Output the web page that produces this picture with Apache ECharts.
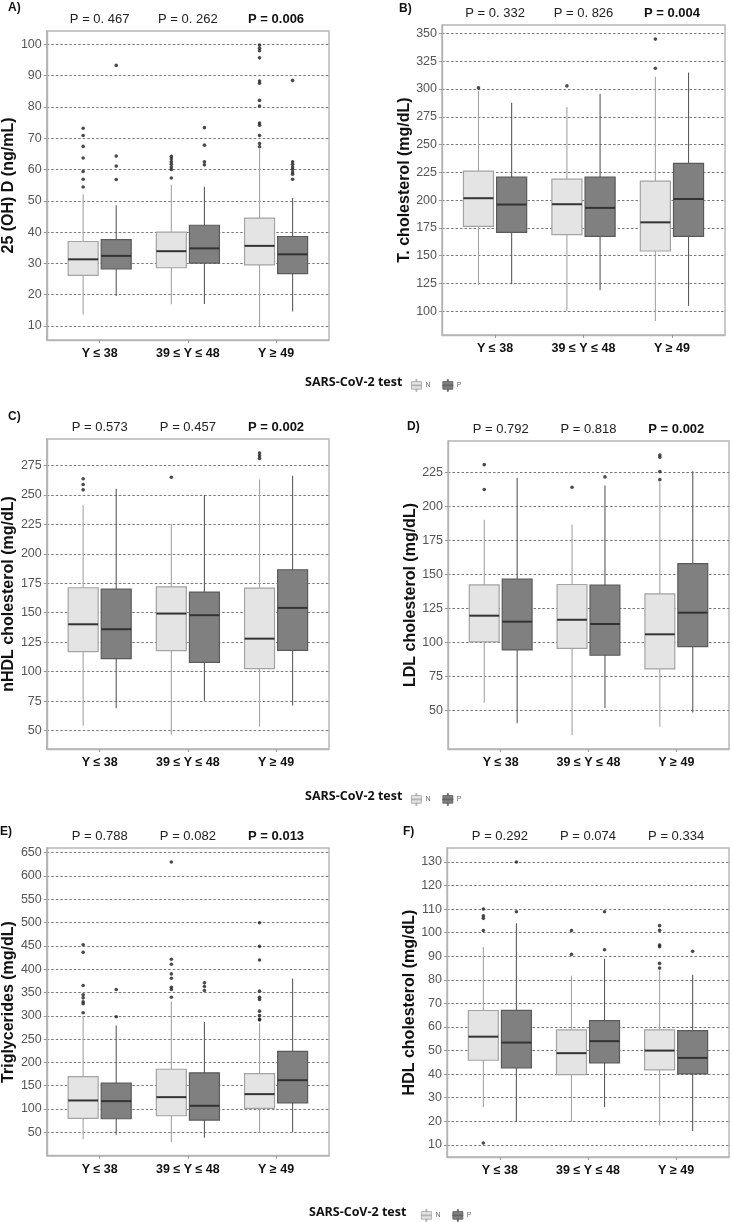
<!DOCTYPE html>
<html><head><meta charset="utf-8">
<script src="https://cdn.jsdelivr.net/npm/echarts@6/dist/echarts.min.js"></script>
<style>html,body{margin:0;padding:0;background:#fff}#c{width:733px;height:1222px}</style>
</head><body><div id="c"></div>
<script>
// ---------- DATA ----------
const categories = ['Y \u2264 38', '39 \u2264 Y \u2264 48', 'Y \u2265 49'];
const groupNames = ['N', 'P'];
const legendTitle = 'SARS-CoV-2 test';
// each box: [lower whisker, Q1, median, Q3, upper whisker]

// A) 25 (OH) D
const vitD_title = '25 (OH) D (ng/mL)';
const vitD_p = ['P = 0. 467', 'P = 0. 262', 'P = 0.006'];
const vitD_sig = [false, false, true];
const vitD_ticks = [10, 20, 30, 40, 50, 60, 70, 80, 90, 100];
const vitD_N = [[13.7, 26.2, 31.3, 37.0, 52.1], [16.9, 28.6, 33.9, 40.0, 55.1], [10.0, 29.5, 35.6, 44.5, 66.5]];
const vitD_P = [[19.6, 28.2, 32.4, 37.6, 48.6], [17.0, 30.1, 34.8, 42.2, 54.5], [14.6, 26.7, 32.9, 38.6, 50.9]];
const vitD_N_out = [[73.2, 70.9, 67.4, 63.7, 59.4, 56.9, 54.4], [64.2, 63.4, 62.5, 61.7, 60.8, 60.0, 57.3], [99.8, 98.8, 98.0, 95.7, 88.3, 87.6, 82.1, 80.3, 74.9, 74.2, 70.9, 68.3, 67.3]];
const vitD_P_out = [[93.3, 64.3, 61.1, 56.8], [73.4, 67.8, 62.5, 61.5], [88.5, 62.5, 61.7, 60.8, 60.1, 59.2, 58.5, 56.9]];

// B) T. cholesterol
const tchol_title = 'T. cholesterol (mg/dL)';
const tchol_p = ['P = 0. 332', 'P = 0. 826', 'P = 0.004'];
const tchol_sig = [false, false, true];
const tchol_ticks = [100, 125, 150, 175, 200, 225, 250, 275, 300, 325, 350];
const tchol_N = [[123.5, 176.4, 201.7, 226.0, 298.0], [100.0, 168.9, 196.3, 218.8, 283.8], [91.3, 154.2, 180.0, 217.0, 310.9]];
const tchol_P = [[124.4, 171.0, 196.0, 220.6, 287.7], [119.0, 167.4, 193.0, 220.6, 295.8], [104.8, 167.4, 201.0, 233.0, 314.8]];
const tchol_N_out = [[301.0], [302.8], [344.9, 318.7]];
const tchol_P_out = [[], [], []];

// C) nHDL cholesterol
const nhdl_title = 'nHDL cholesterol (mg/dL)';
const nhdl_p = ['P = 0.573', 'P = 0.457', 'P = 0.002'];
const nhdl_sig = [false, false, true];
const nhdl_ticks = [50, 75, 100, 125, 150, 175, 200, 225, 250, 275];
const nhdl_N = [[54.0, 117.0, 140.2, 171.2, 241.3], [46.3, 117.8, 149.3, 172.0, 225.0], [53.4, 102.5, 128.0, 170.9, 263.1]];
const nhdl_P = [[69.0, 111.0, 136.0, 170.0, 255.2], [75.3, 107.9, 147.9, 167.5, 250.0], [71.3, 118.1, 154.1, 186.5, 266.2]];
const nhdl_N_out = [[263.7, 258.9, 254.3], [265.0], [285.5, 283.3, 281.0]];
const nhdl_P_out = [[], [], []];

// D) LDL cholesterol
const ldl_title = 'LDL cholesterol (mg/dL)';
const ldl_p = ['P = 0.792', 'P = 0.818', 'P = 0.002'];
const ldl_sig = [false, false, true];
const ldl_ticks = [50, 75, 100, 125, 150, 175, 200, 225];
const ldl_N = [[55.6, 100.3, 119.6, 142.3, 190.1], [31.9, 95.6, 116.6, 142.5, 186.7], [38.0, 80.5, 105.9, 135.7, 217.7]];
const ldl_P = [[40.5, 94.4, 115.2, 146.4, 220.9], [51.7, 90.5, 113.5, 142.0, 215.2], [48.5, 96.9, 121.8, 157.9, 225.7]];
const ldl_N_out = [[230.6, 212.3], [214.0], [237.7, 236.0, 225.5, 219.6]];
const ldl_P_out = [[], [221.6], []];

// E) Triglycerides
const tg_title = 'Triglycerides (mg/dL)';
const tg_p = ['P = 0.788', 'P = 0.082', 'P = 0.013'];
const tg_sig = [false, false, true];
const tg_ticks = [50, 100, 150, 200, 250, 300, 350, 400, 450, 500, 550, 600, 650];
const tg_N = [[35.0, 79.9, 118.4, 169.7, 298.7], [29.3, 85.6, 125.5, 185.4, 330.8], [49.3, 101.3, 132.0, 176.1, 284.4]];
const tg_P = [[45.0, 79.2, 117.0, 155.5, 279.5], [38.6, 76.4, 107.0, 177.6, 286.6], [50.0, 113.4, 161.9, 223.9, 380.0]];
const tg_N_out = [[452.6, 436.2, 365.0, 345.0, 338.6, 330.0, 325.8, 306.5], [630.0, 421.3, 410.6, 389.9, 380.6, 361.4, 356.4, 340.0], [499.7, 449.0, 419.8, 352.9, 340.0, 335.0, 310.0, 300.8, 293.0, 290.9]];
const tg_P_out = [[356.4, 298.0], [370.7, 362.8, 354.3], []];

// F) HDL cholesterol
const hdl_title = 'HDL cholesterol (mg/dL)';
const hdl_p = ['P = 0.292', 'P = 0.074', 'P = 0.334'];
const hdl_sig = [false, false, false];
const hdl_ticks = [10, 20, 30, 40, 50, 60, 70, 80, 90, 100, 110, 120, 130];
const hdl_N = [[26.1, 45.9, 55.9, 67.0, 94.0], [19.8, 39.8, 48.9, 58.8, 81.8], [18.2, 41.8, 50.0, 58.8, 84.0]];
const hdl_P = [[19.8, 42.6, 53.4, 67.1, 104.0], [26.0, 44.8, 54.0, 62.7, 89.0], [15.9, 40.1, 46.9, 58.5, 82.2]];
const hdl_N_out = [[110.1, 107.2, 106.1, 100.9, 10.8], [100.9, 90.8], [103.0, 101.0, 94.8, 94.1, 87.0, 85.0]];
const hdl_P_out = [[130.0, 108.9], [108.9, 92.8], [92.1]];

// ---------- STYLE / LAYOUT ----------
const N_FILL = '#e4e4e4', N_STROKE = '#a3a3a3';
const P_FILL = '#808080', P_STROKE = '#5a5a5a';
const DODGE = 0.1875, HALF = 0.17;
const FONT = '"Liberation Sans", Arial, sans-serif';

const panels = [
  {letter: 'A)', lp: [8, 2], title: vitD_title, p: vitD_p, sig: vitD_sig, ticks: vitD_ticks, N: vitD_N, P: vitD_P, No: vitD_N_out, Po: vitD_P_out, grid: {left: 45, top: 31, width: 284, height: 309}, gap: 25},
  {letter: 'B)', lp: [399, 3], title: tchol_title, p: tchol_p, sig: tchol_sig, ticks: tchol_ticks, N: tchol_N, P: tchol_P, No: tchol_N_out, Po: tchol_P_out, grid: {left: 442, top: 25, width: 283, height: 310}, gap: 27},
  {letter: 'C)', lp: [8, 411], title: nhdl_title, p: nhdl_p, sig: nhdl_sig, ticks: nhdl_ticks, N: nhdl_N, P: nhdl_P, No: nhdl_N_out, Po: nhdl_P_out, grid: {left: 44, top: 439, width: 285, height: 310}, gap: 25},
  {letter: 'D)', lp: [407, 421], title: ldl_title, p: ldl_p, sig: ldl_sig, ticks: ldl_ticks, N: ldl_N, P: ldl_P, No: ldl_N_out, Po: ldl_P_out, grid: {left: 448, top: 441, width: 281, height: 308}, gap: 27},
  {letter: 'E)', lp: [0, 826], title: tg_title, p: tg_p, sig: tg_sig, ticks: tg_ticks, N: tg_N, P: tg_P, No: tg_N_out, Po: tg_P_out, grid: {left: 45, top: 848, width: 284, height: 308}, gap: 28},
  {letter: 'F)', lp: [403, 826], title: hdl_title, p: hdl_p, sig: hdl_sig, ticks: hdl_ticks, N: hdl_N, P: hdl_P, No: hdl_N_out, Po: hdl_P_out, grid: {left: 447, top: 848, width: 282, height: 309}, gap: 26}
];

function expandRange(pn) {
  const vals = [];
  [pn.N, pn.P].forEach(g => g.forEach(b => vals.push(...b)));
  [pn.No, pn.Po].forEach(g => g.forEach(o => vals.push(...o)));
  const mn = Math.min(...vals), mx = Math.max(...vals), r = mx - mn;
  return [mn - 0.05 * r, mx + 0.05 * r];
}

function boxSeries(gi, name, boxes, offset, fill, stroke) {
  return {
    type: 'custom', name, xAxisIndex: gi * 2, yAxisIndex: gi, silent: true,
    itemStyle: {color: fill, borderColor: stroke, borderWidth: 1},
    encode: {x: 0, y: [1, 2, 3, 4, 5]},
    data: boxes.map((b, i) => [i + 1].concat(b)),
    renderItem: function (params, api) {
      const c = api.value(0) + offset;
      const lo = api.coord([c, api.value(1)]);
      const hi = api.coord([c, api.value(5)]);
      const tl = api.coord([c - HALF, api.value(4)]);
      const br = api.coord([c + HALF, api.value(2)]);
      const ml = api.coord([c - HALF, api.value(3)]);
      const mr = api.coord([c + HALF, api.value(3)]);
      return {type: 'group', children: [
        {type: 'line', shape: {x1: lo[0], y1: lo[1], x2: hi[0], y2: hi[1]}, style: {stroke: stroke, lineWidth: 1.1}},
        {type: 'rect', shape: {x: tl[0], y: tl[1], width: br[0] - tl[0], height: br[1] - tl[1]}, style: {fill: fill, stroke: stroke, lineWidth: 1.2}},
        {type: 'line', shape: {x1: ml[0], y1: ml[1], x2: mr[0], y2: mr[1]}, style: {stroke: '#333', lineWidth: 2}}
      ]};
    }
  };
}

function outlierSeries(gi, outs, offset) {
  const data = [];
  outs.forEach((arr, i) => arr.forEach(v => data.push([i + 1 + offset, v])));
  return {type: 'scatter', xAxisIndex: gi * 2, yAxisIndex: gi, silent: true, symbolSize: 3.6,
    itemStyle: {color: '#1e1e1e'}, data: data, z: 5};
}

const grid = [], xAxis = [], yAxis = [], series = [], title = [];
panels.forEach((pn, gi) => {
  const g = Object.assign({show: true, borderColor: '#b5b5b5', borderWidth: 1.4, backgroundColor: '#fff'}, pn.grid);
  grid.push(g);
  const rng = expandRange(pn);
  xAxis.push({
    type: 'value', gridIndex: gi, min: 0.4, max: 3.6, position: 'bottom',
    axisLine: {show: true, lineStyle: {color: '#b5b5b5', width: 1.4}},
    axisTick: {show: true, customValues: [1, 2, 3], length: 3, lineStyle: {color: '#999'}},
    splitLine: {show: false},
    axisLabel: {customValues: [1, 2, 3], formatter: v => categories[Math.round(v) - 1], margin: 7,
      fontFamily: FONT, fontWeight: 'bold', fontSize: 12.5, color: '#111'}
  });
  xAxis.push({
    type: 'value', gridIndex: gi, min: 0.4, max: 3.6, position: 'top',
    axisLine: {show: false}, axisTick: {show: false}, splitLine: {show: false},
    axisLabel: {customValues: [1, 2, 3], margin: 5, fontFamily: FONT, fontSize: 13, color: '#222',
      formatter: v => { const i = Math.round(v) - 1; return pn.sig[i] ? '{b|' + pn.p[i] + '}' : pn.p[i]; },
      rich: {b: {fontFamily: FONT, fontSize: 13, fontWeight: 'bold', color: '#111'}}}
  });
  yAxis.push({
    type: 'value', gridIndex: gi, min: rng[0], max: rng[1],
    name: pn.title, nameLocation: 'middle', nameGap: pn.gap,
    nameTextStyle: {fontFamily: FONT, fontWeight: 'bold', fontSize: 16, color: '#111'},
    axisLine: {show: true, lineStyle: {color: '#b5b5b5', width: 1.4}},
    axisTick: {show: true, customValues: pn.ticks, length: 3, lineStyle: {color: '#999'}},
    axisLabel: {customValues: pn.ticks, margin: 5, fontFamily: FONT, fontSize: 12.5, color: '#555'},
    splitLine: {show: true, lineStyle: {color: '#7a7a7a', width: 1, type: [2.5, 2]}}
  });
  series.push(boxSeries(gi, 'N', pn.N, -DODGE, N_FILL, N_STROKE));
  series.push(boxSeries(gi, 'P', pn.P, DODGE, P_FILL, P_STROKE));
  series.push(outlierSeries(gi, pn.No, -DODGE));
  series.push(outlierSeries(gi, pn.Po, DODGE));
  title.push({text: pn.letter, left: pn.lp[0], top: pn.lp[1], padding: 0,
    textStyle: {fontFamily: FONT, fontWeight: 'bold', fontSize: 12, color: '#111'}});
});

const legendRows = [{tx: 305, lx: 411, y: 385}, {tx: 305, lx: 411, y: 799}, {tx: 309, lx: 421, y: 1215}];
const ICON = 'path://M4.5,0h1v2.2h-1z M0,2.2h10v7.6h-10z M4.5,9.8h1v2.2h-1z M0,5.6h10v0.8h-10z';
const legend = [];
legendRows.forEach(r => {
  title.push({text: legendTitle, left: r.tx, top: r.y - 9, padding: 0,
    textStyle: {fontFamily: '"Open Sans", sans-serif', fontWeight: 'bold', fontSize: 12.5, color: '#111'}});
  legend.push({left: r.lx, top: r.y - 6, padding: 0, itemWidth: 10, itemHeight: 12, itemGap: 12,
    selectedMode: false, icon: ICON,
    textStyle: {fontFamily: FONT, fontSize: 7, color: '#666', padding: [0, 0, 0, -1]},
    data: [
      {name: groupNames[0], itemStyle: {color: N_FILL, borderColor: N_STROKE, borderWidth: 0.8}},
      {name: groupNames[1], itemStyle: {color: P_FILL, borderColor: P_STROKE, borderWidth: 0.8}}
    ]});
});

const chart = echarts.init(document.getElementById('c'), null, {renderer: 'canvas'});
chart.setOption({backgroundColor: '#fff', animation: false, title, legend, grid, xAxis, yAxis, series});
</script></body></html>
